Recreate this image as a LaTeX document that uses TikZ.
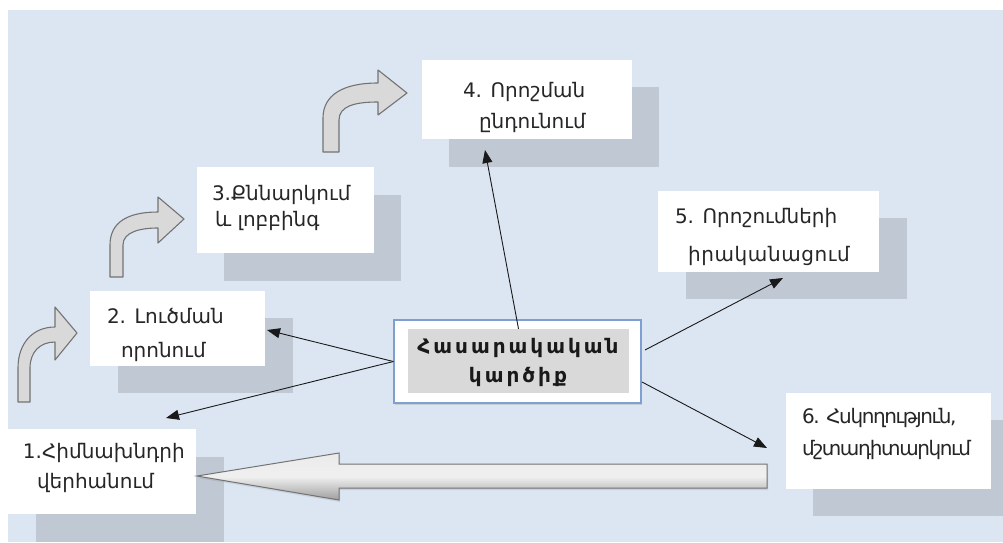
\documentclass[tikz,border=0pt]{standalone}
\usepackage{fontspec}
\setmainfont{DejaVu Sans}
\newfontfamily\titlefont[LetterSpace=15]{DejaVu Sans}
\newfontfamily\widefont[LetterSpace=3]{DejaVu Sans}
\newfontfamily\narrowfont[LetterSpace=-7]{DejaVu Sans}
\usetikzlibrary{arrows.meta,shadows}
\definecolor{bgblue}{HTML}{DCE6F2}
\definecolor{shadowgray}{HTML}{C0C8D4}
\definecolor{centerborder}{HTML}{7E9FD0}
\definecolor{innergray}{HTML}{D9D9D9}
\definecolor{arrowfill}{HTML}{D9D9D9}
\definecolor{arrowedge}{HTML}{737373}
\begin{document}
\begin{tikzpicture}[x=1pt,y=-1pt,
  shadowbox/.style={fill=shadowgray, draw=none, minimum width=#1, anchor=north west, inner sep=0pt, outer sep=0pt},
  whitebox/.style={fill=white, draw=none, minimum width=#1, anchor=north west, inner sep=0pt, outer sep=0pt},
  txt/.style={align=left, inner sep=0pt, outer sep=0pt, anchor=base west, text=black!85, font=\fontsize{20pt}{#1}\selectfont},
  bentarrow/.style={fill=arrowfill, draw=arrowedge, line width=1.1pt, line join=round},
  conn/.style={draw=black!90, line width=0.9pt, -{Triangle[length=13pt,width=10pt]}}
]
\useasboundingbox (0,0) rectangle (1003,542);
\fill[white] (0,0) rectangle (1003,542);
\fill[bgblue] (8,10) rectangle (1003,542);

% shadows
\node[shadowbox=188pt, minimum height=85pt] (s1) at (36,457) {};
\node[shadowbox=175pt, minimum height=75pt] (s2) at (118,318) {};
\node[shadowbox=177pt, minimum height=86pt] (s3) at (224,195) {};
\node[shadowbox=210pt, minimum height=80pt] (s4) at (449,87) {};
\node[shadowbox=221pt, minimum height=81pt] (s5) at (686,218) {};
\node[shadowbox=190pt, minimum height=96pt] (s6) at (813,420) {};

% white boxes
\node[whitebox=188pt, minimum height=85pt] (b1) at (8,429) {};
\node[whitebox=175pt, minimum height=75pt] (b2) at (90,291) {};
\node[whitebox=177pt, minimum height=86pt] (b3) at (197,167) {};
\node[whitebox=210pt, minimum height=79pt] (b4) at (422,60) {};
\node[whitebox=221pt, minimum height=81pt] (b5) at (658,191) {};
\node[whitebox=205pt, minimum height=96pt] (b6) at (786,393) {};

% texts (anchor = baseline of the last line)
\node[txt=30pt] (t1) at (23,488) {1.Հիմնախնդրի\\\hspace*{14pt}վերհանում};
\node[txt=34pt] (t2) at (107,357) {2. Լուծման\\\hspace*{14pt}որոնում};
\node[txt=26pt] (t3) at (212,226) {3.Քննարկում\\\hspace*{3pt}և լոբբինգ};
\node[txt=31pt] (t4) at (463,128) {4. Որոշման\\\hspace*{16pt}ընդունում};
\node[txt=38pt] (t5) at (675,261) {5. Որոշումների\\\hspace*{13pt}{\widefont իրականացում}};
\node[txt=32pt] (t6) at (802,455) {\narrowfont 6. Հսկողություն,\\\narrowfont մշտադիտարկում};

% bent arrows
\draw[bentarrow] (18,402) -- (18,368) .. controls (18,343) and (33,327) .. (55,327) -- (55,307) -- (77,333) -- (55,360) -- (55,342) .. controls (40,342) and (30,352) .. (30,368) -- (30,402) -- cycle;
\draw[bentarrow] (110,277) -- (110,245) .. controls (110,222) and (128,212) .. (158,212) -- (158,197) -- (184,219) -- (158,243) -- (158,228) .. controls (140,228) and (123,232) .. (123,245) -- (123,277) -- cycle;
\draw[bentarrow] (323,152) -- (323,118) .. controls (323,95) and (343,83) .. (378,83) -- (378,70) -- (407,93) -- (378,115) -- (378,102) .. controls (355,102) and (339,106) .. (339,120) -- (339,152) -- cycle;

% big left arrow
\draw[draw=black!55, line width=1pt, top color=black!8, bottom color=black!38, middle color=black!6,
  drop shadow={opacity=0.2, shadow xshift=1pt, shadow yshift=-2pt}]
  (767,464) -- (339,464) -- (339,453) -- (197,476) -- (339,500) -- (339,488) -- (767,488) -- cycle;

% central box
\node[fill=white, draw=centerborder, line width=1.2pt, minimum width=247pt, minimum height=83pt, inner sep=0pt,
  drop shadow={opacity=0.25, shadow xshift=1pt, shadow yshift=-2pt}] (c) at (517.5,361.5) {};
\node[fill=innergray, minimum width=221pt, minimum height=64pt, inner sep=0pt] (ci) at (518.5,361) {};
\node[align=center, inner sep=0pt, anchor=base, font=\titlefont\bfseries\fontsize{20pt}{29pt}\selectfont, text=black!90] (ct) at (518,382) {Հասարակական\\կարծիք};

% connector end points
\coordinate (e4) at (485,150);
\coordinate (e2) at (267,330);
\coordinate (e1) at (166,418);
\coordinate (c5) at (645,350);
\coordinate (e5) at (783,278);
\coordinate (c6) at (642,382);
\coordinate (e6) at (767,448);

\draw[conn] (ci.north) -- (e4);
\draw[conn] (c.west) -- (e2);
\draw[conn] (c.west) -- (e1);
\draw[conn] (c5) -- (e5);
\draw[conn] (c6) -- (e6);
\end{tikzpicture}
\end{document}
